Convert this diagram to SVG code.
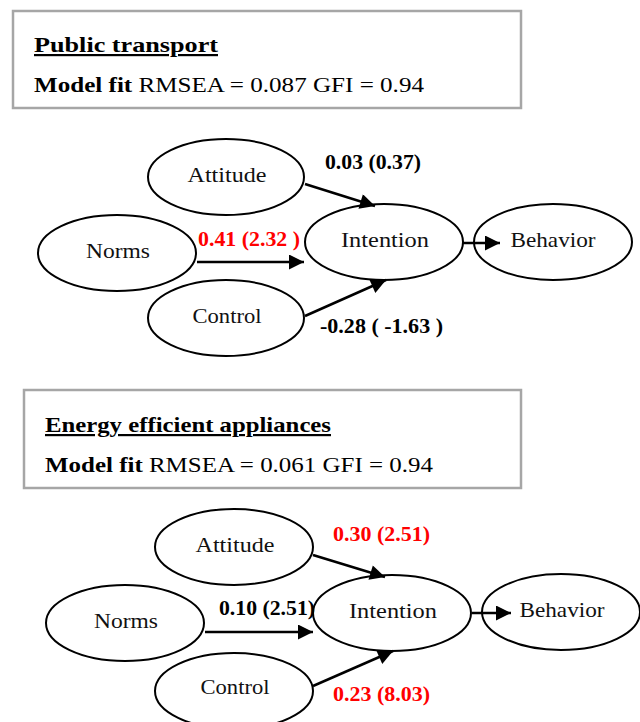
<svg xmlns="http://www.w3.org/2000/svg" width="640" height="722" viewBox="0 0 640 722">
<style>
.box{fill:#fff;stroke:#a6a6a6;stroke-width:2.5}
.title{font-family:"Liberation Serif",serif;font-size:22px;font-weight:bold;text-decoration:underline}
.fit{font-family:"Liberation Serif",serif;font-size:22px}
.fit .b{font-weight:bold}
.node ellipse{fill:#fff;stroke:#000;stroke-width:2}
.node text{font-family:"Liberation Serif",serif;font-size:21px;text-anchor:middle;fill:#111}
.edge{stroke:#000;stroke-width:2.5;fill:none;marker-end:url(#ah)}
.lbl{font-family:"Liberation Serif",serif;font-size:20px;font-weight:bold}
.red{fill:#ff0000}
</style>
<defs>
<marker id="ah" viewBox="0 0 10 10" refX="10" refY="5" markerWidth="6.4" markerHeight="6" markerUnits="strokeWidth" orient="auto">
<path d="M0,0 L10,5 L0,10 z" fill="#000"/>
</marker>
</defs>
<rect width="640" height="722" fill="#fff"/>

<g id="box1">
<rect class="box" x="13" y="11" width="508" height="97"/>
<text class="title" x="34" y="52" textLength="184" lengthAdjust="spacingAndGlyphs">Public transport  </text>
<text class="fit" x="34" y="92" textLength="390" lengthAdjust="spacingAndGlyphs"><tspan class="b">Model fit</tspan> RMSEA = 0.087 GFI = 0.94</text>
</g>

<g id="attitude1" class="node"><ellipse cx="226" cy="177" rx="78" ry="38"/><text x="227" y="182" textLength="79" lengthAdjust="spacingAndGlyphs">Attitude</text></g>
<g id="norms1" class="node"><ellipse cx="117" cy="253" rx="79" ry="38"/><text x="118" y="258" textLength="64" lengthAdjust="spacingAndGlyphs">Norms</text></g>
<g id="control1" class="node"><ellipse cx="226" cy="318" rx="78" ry="38"/><text x="227" y="323" textLength="69" lengthAdjust="spacingAndGlyphs">Control</text></g>
<g id="intention1" class="node"><ellipse cx="384" cy="242" rx="79" ry="38"/><text x="385" y="247" textLength="88" lengthAdjust="spacingAndGlyphs">Intention</text></g>
<g id="behavior1" class="node"><ellipse cx="553" cy="242" rx="79" ry="38"/><text x="553" y="247" textLength="85" lengthAdjust="spacingAndGlyphs">Behavior</text></g>

<g id="connectors1">
<line class="edge" x1="305" y1="184" x2="375" y2="206"/>
<line class="edge" x1="197" y1="262" x2="304" y2="262"/>
<line class="edge" x1="305" y1="316" x2="386" y2="280"/>
<line class="edge" x1="463" y1="243" x2="500" y2="243"/>
<text class="lbl" x="325" y="169" textLength="96" lengthAdjust="spacingAndGlyphs">0.03 (0.37)</text>
<text class="lbl red" x="198" y="246" textLength="102" lengthAdjust="spacingAndGlyphs">0.41 (2.32 )</text>
<text class="lbl" x="320" y="333" textLength="123" lengthAdjust="spacingAndGlyphs">-0.28 ( -1.63 )</text>
</g>

<g id="box2">
<rect class="box" x="24" y="390" width="497" height="98"/>
<text class="title" x="45" y="432" textLength="286" lengthAdjust="spacingAndGlyphs">Energy efficient appliances</text>
<text class="fit" x="45" y="472" textLength="388" lengthAdjust="spacingAndGlyphs"><tspan class="b">Model fit</tspan> RMSEA = 0.061 GFI = 0.94</text>
</g>

<g id="attitude2" class="node"><ellipse cx="234" cy="547" rx="79" ry="38"/><text x="235" y="552" textLength="79" lengthAdjust="spacingAndGlyphs">Attitude</text></g>
<g id="norms2" class="node"><ellipse cx="125" cy="623" rx="79" ry="38"/><text x="126" y="628" textLength="64" lengthAdjust="spacingAndGlyphs">Norms</text></g>
<g id="control2" class="node"><ellipse cx="234" cy="691" rx="79" ry="38"/><text x="235" y="694" textLength="69" lengthAdjust="spacingAndGlyphs">Control</text></g>
<g id="intention2" class="node"><ellipse cx="392" cy="613" rx="79" ry="38"/><text x="393" y="618" textLength="88" lengthAdjust="spacingAndGlyphs">Intention</text></g>
<g id="behavior2" class="node"><ellipse cx="561" cy="612" rx="79" ry="38"/><text x="562" y="617" textLength="85" lengthAdjust="spacingAndGlyphs">Behavior</text></g>

<g id="connectors2">
<line class="edge" x1="313" y1="555" x2="385" y2="577"/>
<line class="edge" x1="205" y1="632" x2="313" y2="632"/>
<line class="edge" x1="313" y1="686" x2="393" y2="651"/>
<line class="edge" x1="472" y1="613" x2="511" y2="613"/>
<text class="lbl red" x="333" y="541" textLength="97" lengthAdjust="spacingAndGlyphs">0.30 (2.51)</text>
<text class="lbl" x="219" y="615" textLength="96" lengthAdjust="spacingAndGlyphs">0.10 (2.51)</text>
<text class="lbl red" x="333" y="701" textLength="97" lengthAdjust="spacingAndGlyphs">0.23 (8.03)</text>
</g>
</svg>
